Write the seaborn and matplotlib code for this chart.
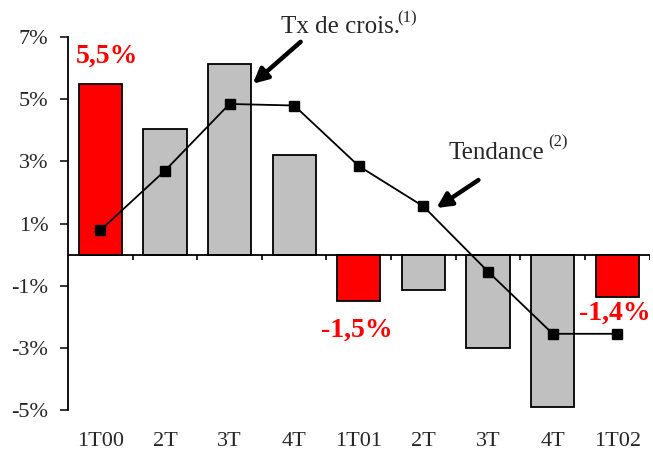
import matplotlib
matplotlib.use("Agg")
import matplotlib.pyplot as plt
import numpy as np
import pandas as pd
import seaborn as sns

# Data
quarters = ["1T00", "2T", "3T", "4T", "1T01", "2T", "3T", "4T", "1T02"]
growth = [5.5, 4.05, 6.15, 3.2, -1.5, -1.15, -3.0, -4.9, -1.35]
trend = [0.78, 2.7, 4.85, 4.8, 2.85, 1.55, -0.55, -2.55, -2.55]
bar_colors = ["#FF0000", "#C0C0C0", "#C0C0C0", "#C0C0C0", "#FF0000",
              "#C0C0C0", "#C0C0C0", "#C0C0C0", "#FF0000"]
red_labels = {0: "5,5%", 4: "-1,5%", 8: "-1,4%"}
yticks = [7, 5, 3, 1, -1, -3, -5]

sns.set_style("white")
plt.rcParams["font.family"] = ["Liberation Serif", "DejaVu Serif"]

df = pd.DataFrame({"pos": range(len(quarters)), "growth": growth, "trend": trend})

fig = plt.figure(figsize=(6.53, 4.59), dpi=100)
ax = fig.add_axes([0.104, 0.107, 0.891, 0.812])

sns.barplot(data=df, x="pos", y="growth", hue="pos", palette=bar_colors,
            legend=False, width=0.67, edgecolor="black", linewidth=1.3,
            saturation=1, ax=ax)
ax.plot(df["pos"], df["trend"], color="black", lw=1.3, marker="s",
        markersize=7, zorder=5)

# zero axis with category separators
ax.axhline(0, color="black", lw=1.3, zorder=4)
ax.vlines(np.arange(0.5, len(quarters) + 0.5, 1), -0.17, 0, color="black", lw=1.2, zorder=4)

ax.set_xlim(-0.5, len(quarters) - 0.5)
ax.set_ylim(-5, 7)
ax.set_yticks(yticks)
ax.set_yticklabels([f"{t}%" for t in yticks], fontsize=16)
ax.set_xticks(range(len(quarters)))
ax.set_xticklabels(quarters, fontsize=16)
ax.tick_params(axis="x", length=0, pad=16)
ax.tick_params(axis="y", left=True, length=6, width=1.3, pad=8, direction="out")
ax.set_xlabel("")
ax.set_ylabel("")
for s in ["top", "right", "bottom"]:
    ax.spines[s].set_visible(False)
ax.spines["left"].set_linewidth(1.3)
ax.spines["left"].set_color("black")

# red value labels
ax.text(0.1, 6.4, red_labels[0], color="#FF0000", fontsize=20, fontweight="bold",
        ha="center", va="center")
ax.text(3.97, -2.43, red_labels[4], color="#FF0000", fontsize=20, fontweight="bold",
        ha="center", va="center")
ax.text(7.96, -1.88, red_labels[8], color="#FF0000", fontsize=20, fontweight="bold",
        ha="center", va="center")

# annotations
arrow = dict(arrowstyle="-|>", lw=3.2, color="black", mutation_scale=22,
             shrinkA=0, shrinkB=0)
ax.annotate("", xy=(2.36, 5.5), xytext=(3.1, 6.85), arrowprops=arrow,
            annotation_clip=False)
ax.text(2.8, 7.32, "Tx de crois.", fontsize=18, ha="left", va="center", clip_on=False)
ax.text(4.6, 7.62, "(1)", fontsize=12, ha="left", va="center", clip_on=False)
ax.annotate("", xy=(5.2, 1.5), xytext=(5.85, 2.4), arrowprops=arrow)
ax.text(5.38, 3.27, "Tendance", fontsize=18, ha="left", va="center")
ax.text(6.93, 3.6, "(2)", fontsize=12, ha="left", va="center")

fig.savefig("out.png", dpi=100)
